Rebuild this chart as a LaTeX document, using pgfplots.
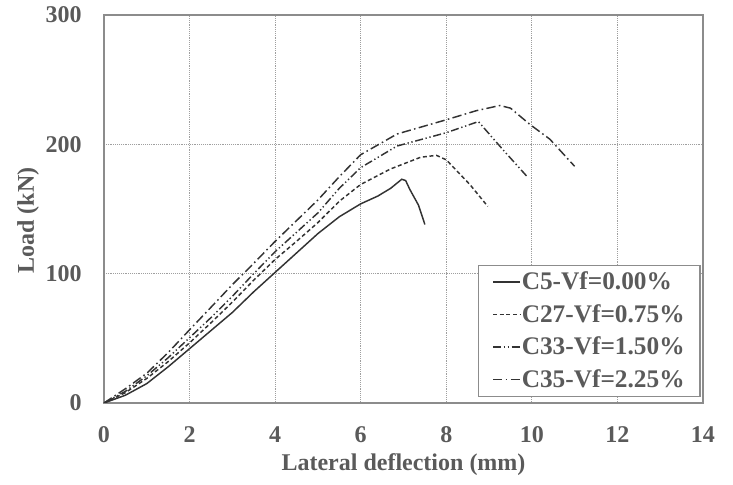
\documentclass[border=0pt]{standalone}
\usepackage{pgfplots}
\pgfplotsset{compat=1.18}
\usepackage{fontspec}
\setmainfont{Liberation Serif}
\definecolor{txt}{HTML}{5A5A5A}
\definecolor{axc}{HTML}{8C8C8C}
\definecolor{crv}{HTML}{333333}
\begin{document}
\begin{tikzpicture}
\begin{axis}[
  scale only axis, width=449.25pt, height=291pt,
  xmin=0, xmax=14, ymin=0, ymax=300,
  xtick={0,2,...,14}, ytick={0,100,200,300},
  grid=major,
  major grid style={densely dotted, gray!75, line width=0.6pt},
  axis line style={axc, line width=1pt},
  major tick length=0pt,
  /pgf/number format/assume math mode=true,
  ticklabel style={font=\fontsize{18}{18}\selectfont\bfseries, text=txt, inner sep=0pt},
  xticklabel style={anchor=center, yshift=-24pt},
  yticklabel style={anchor=east, xshift=-16.5pt},
  xlabel={Lateral deflection (mm)},
  ylabel={Load (kN)},
  every axis x label/.style={at={(rel axis cs:0.5,0)}, anchor=center, yshift=-46pt,
    font=\fontsize{18}{18}\selectfont\bfseries, text=txt},
  every axis y label/.style={at={(rel axis cs:0,0.47)}, xshift=-57pt, rotate=90, anchor=center,
    font=\fontsize{18}{18}\selectfont\bfseries, text=txt},
  legend style={at={(rel axis cs:0.624,0.356)}, anchor=north west,
    draw=axc, line width=0.8pt, fill=white,
    font=\fontsize{19}{19}\selectfont\bfseries, text=txt,
    inner xsep=6pt, inner ysep=3pt, row sep=5.5pt,
    nodes={inner xsep=0.5pt}},
  legend cell align=left,
  legend image code/.code={\path (0pt,0pt) -- (0pt,0pt); \draw[#1] (4.5pt,0pt) -- (25pt,0pt);},
]
\addplot[crv, line width=1.1pt, solid] coordinates {
(0,0) (0.5,6) (1,15) (1.5,28) (2,42) (2.5,56) (3,70) (3.5,86) (4,101) (4.5,116)
(5,131) (5.5,144) (6,154) (6.4,160) (6.7,166) (6.96,173) (7.05,172) (7.15,165) (7.35,153) (7.5,138)};
\addlegendentry{C5-Vf=0.00\%}
\addplot[crv, line width=1.1pt, dash pattern=on 3pt off 2pt] coordinates {
(0,0) (0.5,8) (1,19) (1.5,32) (2,46.5) (2.5,62) (3,78) (3.5,95) (4,111) (4.5,125)
(5,139.5) (5.5,156) (6,169) (6.7,181) (7.4,190) (7.77,191.5) (8.0,188) (8.55,169) (8.97,152)};
\addlegendentry{C27-Vf=0.75\%\hspace*{5pt}}
\addplot[crv, line width=1.1pt, dash pattern=on 6pt off 2pt on 1pt off 2pt on 1pt off 2pt] coordinates {
(0,0) (0.5,9) (1,21) (1.5,35) (2,50.5) (2.5,66) (3,82.5) (3.5,100) (4,117) (4.5,132)
(5,147) (5.5,166) (6,182) (6.85,198.7) (8.0,209) (8.75,217.6) (9.32,196) (9.88,175.4)};
\addlegendentry{C33-Vf=1.50\%\hspace*{5pt}}
\addplot[crv, line width=1.1pt, dash pattern=on 7pt off 2.5pt on 1.2pt off 2.5pt] coordinates {
(0,0) (0.5,11) (1,23) (1.5,39) (2,56.6) (2.5,74) (3,91.5) (3.5,108) (4,125) (4.5,141)
(5,157) (5.5,175) (6,192) (6.85,208) (8.0,219) (8.7,226) (9.25,230) (9.5,228) (9.95,215.5) (10.42,204) (11.0,183)};
\addlegendentry{C35-Vf=2.25\%}
\end{axis}
\useasboundingbox (-78pt,-61.5pt) rectangle ++(549.75pt,363.75pt);
\end{tikzpicture}
\end{document}
